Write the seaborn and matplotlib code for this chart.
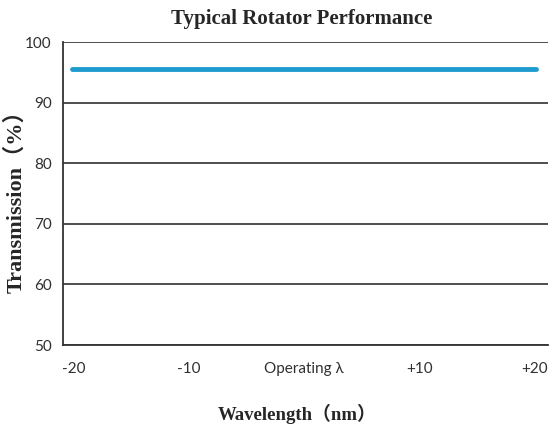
import matplotlib
matplotlib.use('Agg')
import matplotlib.pyplot as plt
import matplotlib.transforms as mtransforms
import seaborn as sns
import pandas as pd

# data
wavelength = [-19.2, -10, 0, 10, 21.1]
transmission = [95.6, 95.6, 95.6, 95.6, 95.6]
xtick_pos = [-20, -10, 0, 10, 20]
xtick_labels = ['-20', '-10', 'Operating λ', '+10', '+20']
ytick_pos = [50, 60, 70, 80, 90, 100]

df = pd.DataFrame({'wl': wavelength, 'T': transmission})

sns.set_style('white')
fig = plt.figure(figsize=(5.5, 4.26), dpi=100)
ax = fig.add_axes([0.1145, 0.19, 0.8818, 0.7113])

sns.lineplot(data=df, x='wl', y='T', ax=ax, color='#1f9bd0', linewidth=3.5,
             solid_capstyle='round')

ax.set_xlim(-20, 22.1)
ax.set_ylim(50, 100)
ax.set_yticks(ytick_pos)
ax.set_xticks(xtick_pos)
ax.set_xticklabels(xtick_labels)
ax.yaxis.grid(True, color='#404040', linewidth=1.3)
ax.xaxis.grid(False)
ax.set_axisbelow(True)
ax.set_xlabel('')
ax.set_ylabel('')

for s in ['top', 'right']:
    ax.spines[s].set_visible(False)
for s in ['left', 'bottom']:
    ax.spines[s].set_color('#333333')
    ax.spines[s].set_linewidth(1.3)

ax.tick_params(axis='x', direction='in', length=5, width=1.2, color='#333333',
               pad=12, labelsize=11, labelcolor='#303030')
ax.tick_params(axis='y', length=0, pad=8, labelsize=11, labelcolor='#303030')
shift = mtransforms.ScaledTranslation(11 / 100, 0, fig.dpi_scale_trans)
for lab in ax.get_xticklabels():
    lab.set_family(['Lato', 'DejaVu Sans'])
    lab.set_transform(lab.get_transform() + shift)
for lab in ax.get_yticklabels():
    lab.set_family(['Lato', 'DejaVu Sans'])

serif = ['Liberation Serif', 'Noto Sans CJK SC']
fig.text(0.549, 0.955, 'Typical Rotator Performance', family=serif,
         fontweight='bold', fontsize=15, ha='center', va='center')
fig.text(0.54, 0.028, 'Wavelength（nm）', family=serif,
         fontweight='bold', fontsize=13.5, ha='center', va='center')
fig.text(0.028, 0.54, 'Transmission（%）', family=serif, rotation=90,
         fontweight='bold', fontsize=16, ha='center', va='center')

fig.savefig('out.png', dpi=100)
